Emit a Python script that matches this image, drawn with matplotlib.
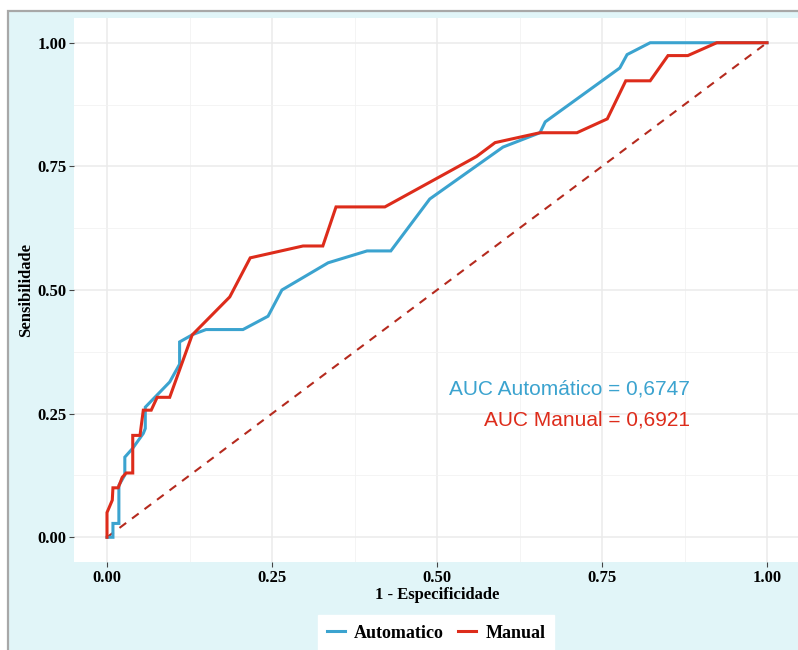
import matplotlib
matplotlib.use('Agg')
import matplotlib.pyplot as plt
from matplotlib.patches import Rectangle

# ROC points (1 - especificidade, sensibilidade)
auto_fpr = [0.0, 0.009, 0.009, 0.018, 0.018, 0.027, 0.027, 0.039, 0.055, 0.058, 0.058,
            0.095, 0.11, 0.11, 0.13, 0.15, 0.206, 0.244, 0.265, 0.335, 0.394, 0.43,
            0.489, 0.6, 0.656, 0.664, 0.777, 0.788, 0.823, 1.0]
auto_tpr = [0.0, 0.0, 0.028, 0.028, 0.105, 0.126, 0.162, 0.18, 0.21, 0.22, 0.263,
            0.314, 0.35, 0.395, 0.41, 0.42, 0.42, 0.447, 0.5, 0.555, 0.579, 0.579,
            0.684, 0.789, 0.818, 0.84, 0.949, 0.976, 1.0, 1.0]

man_fpr = [0.0, 0.0, 0.008, 0.009, 0.017, 0.023, 0.029, 0.039, 0.039, 0.05, 0.055,
           0.067, 0.076, 0.095, 0.129, 0.186, 0.217, 0.297, 0.327, 0.347, 0.421,
           0.56, 0.588, 0.656, 0.712, 0.758, 0.786, 0.823, 0.85, 0.88, 0.924, 1.0]
man_tpr = [0.0, 0.05, 0.075, 0.1, 0.1, 0.121, 0.13, 0.13, 0.206, 0.206, 0.257,
           0.257, 0.283, 0.283, 0.409, 0.486, 0.565, 0.589, 0.589, 0.668, 0.668,
           0.77, 0.798, 0.818, 0.818, 0.846, 0.923, 0.923, 0.974, 0.974, 1.0, 1.0]

ticks = [0.0, 0.25, 0.5, 0.75, 1.0]
tick_labels = ['0.00', '0.25', '0.50', '0.75', '1.00']
auc_auto = '0,6747'
auc_man = '0,6921'

blue = '#3BA3CF'
red = '#DD2C1B'
serif = ['Liberation Serif', 'DejaVu Serif']
sans = ['Liberation Sans', 'DejaVu Sans']

W, H = 798, 650
fig = plt.figure(figsize=(W / 100, H / 100), dpi=100, facecolor='white')

# outer cyan panel with grey border, kept behind the axes
fig.patches.append(Rectangle((8 / W, -0.05), 1.1, 1.05 - 11 / H, transform=fig.transFigure,
                             facecolor='#E1F5F8', edgecolor='#A8A8A8', linewidth=1.6,
                             zorder=-10))

ax = fig.add_axes([74 / W, (H - 562) / H, (800 - 74) / W, (562 - 18) / H])
ax.set_zorder(1)
ax.set_facecolor('white')
ax.set_xlim(-0.05, 1.05)
ax.set_ylim(-0.05, 1.05)
for s in ax.spines.values():
    s.set_visible(False)

ax.set_xticks(ticks)
ax.set_yticks(ticks)
ax.set_xticks([0.125, 0.375, 0.625, 0.875], minor=True)
ax.set_yticks([0.125, 0.375, 0.625, 0.875], minor=True)
ax.set_xticklabels(tick_labels, fontfamily=serif, fontweight='bold', fontsize=12)
ax.set_yticklabels(tick_labels, fontfamily=serif, fontweight='bold', fontsize=12)
ax.tick_params(which='major', length=3.5, width=0.8, color='#444444', pad=2)
ax.tick_params(which='minor', length=0)
ax.grid(which='major', color='#EBEBEB', linewidth=1.1)
ax.grid(which='minor', color='#F2F2F2', linewidth=0.6)
ax.set_axisbelow(True)

ax.plot([0, 1], [0, 1], color='#B52A1E', linestyle=(0, (4, 3.5)), linewidth=1.5)
ax.plot(auto_fpr, auto_tpr, color=blue, linewidth=2.2, label='Automatico',
        solid_joinstyle='miter')
ax.plot(man_fpr, man_tpr, color=red, linewidth=2.2, label='Manual',
        solid_joinstyle='miter')

ax.text(0.883, 0.30, f'AUC Automático = {auc_auto}', color=blue, fontsize=15,
        fontfamily=sans, ha='right', va='center')
ax.text(0.883, 0.237, f'AUC Manual = {auc_man}', color=red, fontsize=15,
        fontfamily=sans, ha='right', va='center')

ax.set_xlabel('1 - Especificidade', fontfamily=serif, fontweight='bold', fontsize=12,
              labelpad=1)
ax.set_ylabel('Sensibilidade', fontfamily=serif, fontweight='bold', fontsize=12,
              labelpad=2)

leg = fig.legend(loc='center', bbox_to_anchor=(436 / W, 17 / H), ncol=2, frameon=True,
                 fancybox=False, handlelength=1.0, handletextpad=0.5,
                 columnspacing=0.8, borderpad=0.5,
                 prop={'family': serif, 'weight': 'bold', 'size': 13})
leg.set_zorder(5)
leg.get_frame().set_edgecolor('white')
leg.get_frame().set_facecolor('white')
leg.get_frame().set_alpha(1)

fig.savefig('out.png', dpi=100, facecolor='white')
